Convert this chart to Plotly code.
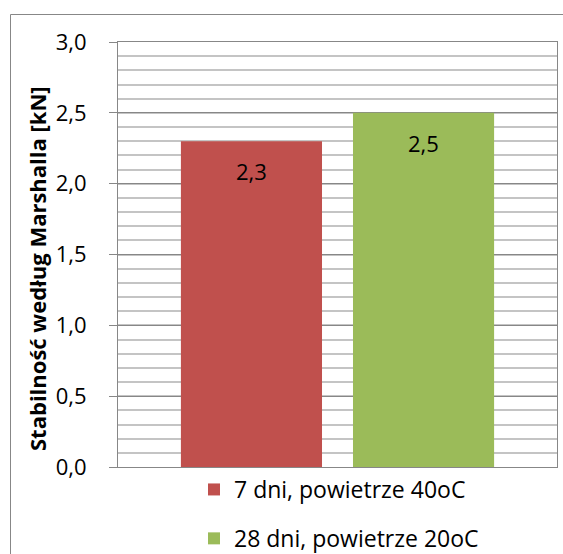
import plotly.graph_objects as go

# Data
series_names = ["7 dni, powietrze 40oC", "28 dni, powietrze 20oC"]
series_values = [2.3, 2.5]
series_colors = ["#C0504D", "#9BBB59"]
category = ["Stabilność"]
y_ticks = [0.0, 0.5, 1.0, 1.5, 2.0, 2.5, 3.0]
y_title = "Stabilność według Marshalla [kN]"

# Canvas and plot-area geometry (pixels)
W, H = 563, 554
M_L, M_R, M_T, M_B = 118, 6, 42, 87
plot_w = W - M_L - M_R
plot_h = H - M_T - M_B
BARGAP = 0.216
BARGROUPGAP = 0.18

FONT = "Open Sans"
AXIS_GRAY = "#878787"
MINOR_GRAY = "#C4C4C4"


def px_x(px):
    """Convert a horizontal pixel position to paper coordinates."""
    return (px - M_L) / plot_w


def px_y(py):
    """Convert a vertical pixel position to paper coordinates."""
    return (H - M_B - py) / plot_h


def fmt(v):
    return f"{v:.1f}".replace(".", ",")


fig = go.Figure()
for i, (name, val, col) in enumerate(zip(series_names, series_values, series_colors)):
    fig.add_trace(go.Bar(
        x=category, y=[val], name=name,
        marker=dict(color=col, line=dict(width=0)),
        legendgroup=f"g{i}",
        hoverinfo="skip",
    ))

# value labels placed inside each bar, below its top edge
slot = plot_w * (1 - BARGAP) / len(series_values)
n = len(series_values)
annotations = []
for i, val in enumerate(series_values):
    shift = (i - (n - 1) / 2) * slot
    annotations.append(dict(
        x=category[0], y=val, xref="x", yref="y",
        text=fmt(val), showarrow=False,
        xshift=shift, yshift=-30,
        font=dict(family=FONT, size=22, color="#000000"),
    ))

# rotated axis title
annotations.append(dict(
    x=px_x(37), y=px_y(269), xref="paper", yref="paper",
    xanchor="center", yanchor="middle",
    text=f"<b>{y_title}</b>", showarrow=False, textangle=-90,
    font=dict(family=FONT, size=22, color="#000000"),
))

fig.update_layout(
    width=W, height=H,
    margin=dict(l=M_L, r=M_R, t=M_T, b=M_B, autoexpand=False),
    paper_bgcolor="#FFFFFF", plot_bgcolor="#FFFFFF",
    barmode="group", bargap=BARGAP, bargroupgap=BARGROUPGAP,
    separators=", ",
    font=dict(family=FONT, size=22, color="#000000"),
    showlegend=True,
    legend=dict(
        orientation="v", x=px_x(194), y=px_y(468),
        xanchor="left", yanchor="top",
        tracegroupgap=16, traceorder="grouped",
        font=dict(family=FONT, size=23, color="#000000"),
        bgcolor="rgba(0,0,0,0)",
    ),
    annotations=annotations,
    shapes=[dict(
        type="rect", xref="paper", yref="paper",
        x0=px_x(10.5), x1=px_x(575), y0=px_y(575), y1=px_y(14.5),
        line=dict(color=AXIS_GRAY, width=1), fillcolor="rgba(0,0,0,0)",
        layer="below",
    )],
)

fig.update_yaxes(
    range=[0, 3.0],
    tickvals=y_ticks, tickformat=".1f",
    ticks="outside", ticklen=8, tickcolor=AXIS_GRAY, tickwidth=1,
    ticklabelstandoff=18,
    showline=True, linecolor=AXIS_GRAY, linewidth=1, mirror=True,
    showgrid=True, gridcolor=AXIS_GRAY, gridwidth=1,
    minor=dict(dtick=0.1, showgrid=True, gridcolor=MINOR_GRAY, gridwidth=1.5, ticks=""),
    zeroline=False,
    tickfont=dict(family=FONT, size=22, color="#000000"),
)
fig.update_xaxes(
    showticklabels=False, ticks="",
    showline=True, linecolor=AXIS_GRAY, linewidth=1, mirror=True,
    showgrid=False, zeroline=False,
)

fig.write_html("out.html")
